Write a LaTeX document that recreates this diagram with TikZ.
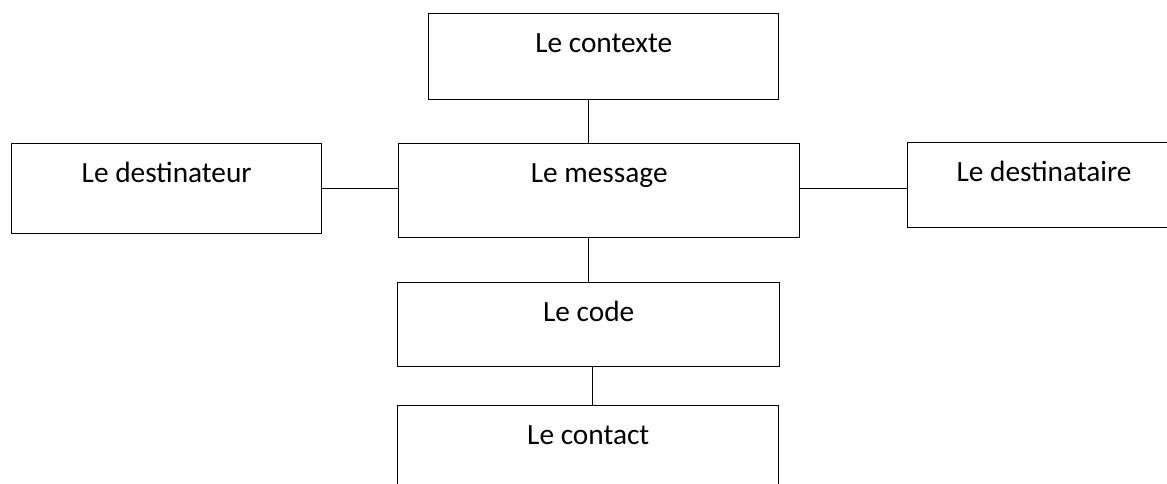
\documentclass[tikz,border=0pt]{standalone}
\usepackage{fontspec}
\setmainfont{Carlito}

\tikzset{
  box/.style={draw, line width=1.1pt, inner sep=0pt, anchor=north west,
    text height=29pt, font=\fontsize{22}{26}\selectfont},
  link/.style={line width=1.1pt}
}

\begin{document}
\begin{tikzpicture}[x=0.75pt, y=-0.75pt]
    % Page et decoupe
    \useasboundingbox (0,0) rectangle (1167,484);
    \clip (0,0) rectangle (1167,484);

    % Les boites
    \node[box, minimum width=262.5pt, text depth=35.25pt] (ctx) at (428,13) {Le contexte};
    \node[box, minimum width=232.5pt, text depth=38.25pt] (dst) at (11,143) {Le destinateur};
    \node[box, minimum width=300.75pt, text depth=41.25pt] (msg) at (398,143) {Le message};
    % boite coupee par le bord droit
    \node[box, minimum width=230pt, text depth=34.5pt] (dsr) at (907,142) {\hspace*{-25.5pt}Le destinataire};
    \node[box, minimum width=286.5pt, text depth=33.75pt] (code) at (397,282) {Le code};
    \node[box, minimum width=285.75pt, text depth=45.75pt] (ctc) at (397,405) {Le contact};

    % Les liaisons
    \draw[link] (code.north |- ctx.south) -- (code.north |- msg.north);
    \draw[link] (dst.east) -- (msg.west |- dst.east);
    \draw[link] (msg.east |- dst.east) -- (dsr.west |- dst.east);
    \draw[link] (code.north |- msg.south) -- (code.north);
    \draw[link] ([xshift=3pt]code.south) -- ([xshift=3pt]code.south |- ctc.north);
\end{tikzpicture}
\end{document}
